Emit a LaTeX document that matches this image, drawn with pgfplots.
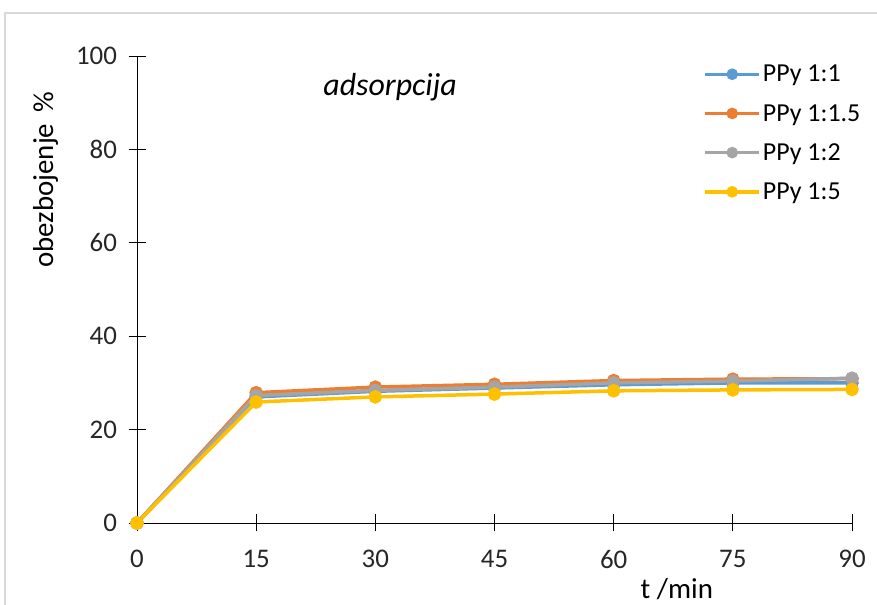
\documentclass[border=0pt]{standalone}
\usepackage{pgfplots}
\pgfplotsset{compat=1.18}
\usepackage{fontspec}
\setmainfont{Carlito}
\definecolor{cblue}{HTML}{5B9BD5}
\definecolor{corange}{HTML}{ED7D31}
\definecolor{cgray}{HTML}{A5A5A5}
\definecolor{cyellow}{HTML}{FFC000}
\definecolor{frame}{HTML}{D9D9D9}
\begin{document}
\begin{tikzpicture}[x=1bp,y=1bp]
\useasboundingbox (0,0) rectangle (877,605);
\draw[frame,line width=2bp] (5,-5) -- (5,592) -- (890,592);
\begin{axis}[
  at={(137bp,82bp)}, anchor=origin,
  scale only axis, width=715bp, height=467bp,
  xmin=0, xmax=90, ymin=0, ymax=100,
  xtick={0,15,30,45,60,75,90}, ytick={0,20,40,60,80,100},
  axis x line=bottom, axis y line=left,
  axis line style={-, black, line width=0.8bp},
  tick align=center, major tick length=17bp,
  tick style={black, line width=0.8bp},
  tick label style={font=\fontsize{27}{30}\selectfont, text=black!85},
  /pgf/number format/assume math mode=true,
  yticklabel style={xshift=-8bp},
  xticklabel style={yshift=-15bp},
  clip=false,
  xlabel={t /min}, ylabel={obezbojenje \,\%},
  label style={font=\fontsize{29}{32}\selectfont},
  xlabel style={at={(axis description cs:0.755,-0.141)}, anchor=center},
  ylabel style={at={(axis description cs:-0.128,0.735)}, anchor=center, rotate=0},
  legend style={draw=none, fill=none, at={(axis description cs:0.792,0.985)}, anchor=north west,
    font=\fontsize{26}{29}\selectfont, inner sep=0pt, row sep=17bp,
    legend cell align=left},
  legend image code/.code={
    \draw[#1, line width=3.5bp] (0bp,0bp) -- (54bp,0bp);
    \fill[#1] (27bp,0bp) circle (4bp);
  },
  every axis plot/.append style={line width=3.5bp, mark=*, mark size=5bp},
]
\addplot[cblue, mark options={fill=cblue}] coordinates {(0,0) (15,27.0) (30,28.2) (45,28.9) (60,29.6) (75,30.0) (90,30.0)};
\addlegendentry{PPy 1:1}
\addplot[corange, mark options={fill=corange}] coordinates {(0,0) (15,27.9) (30,29.1) (45,29.7) (60,30.5) (75,30.8) (90,30.9)};
\addlegendentry{PPy 1:1.5}
\addplot[cgray, mark options={fill=cgray}] coordinates {(0,0) (15,27.3) (30,28.4) (45,29.1) (60,30.0) (75,30.4) (90,31.0)};
\addlegendentry{PPy 1:2}
\addplot[cyellow, mark options={fill=cyellow}] coordinates {(0,0) (15,25.9) (30,27.0) (45,27.6) (60,28.3) (75,28.5) (90,28.6)};
\addlegendentry{PPy 1:5}
\node[font=\fontsize{32}{35}\selectfont\itshape] at (axis description cs:0.354,0.934) {adsorpcija};
\end{axis}
\end{tikzpicture}
\end{document}
